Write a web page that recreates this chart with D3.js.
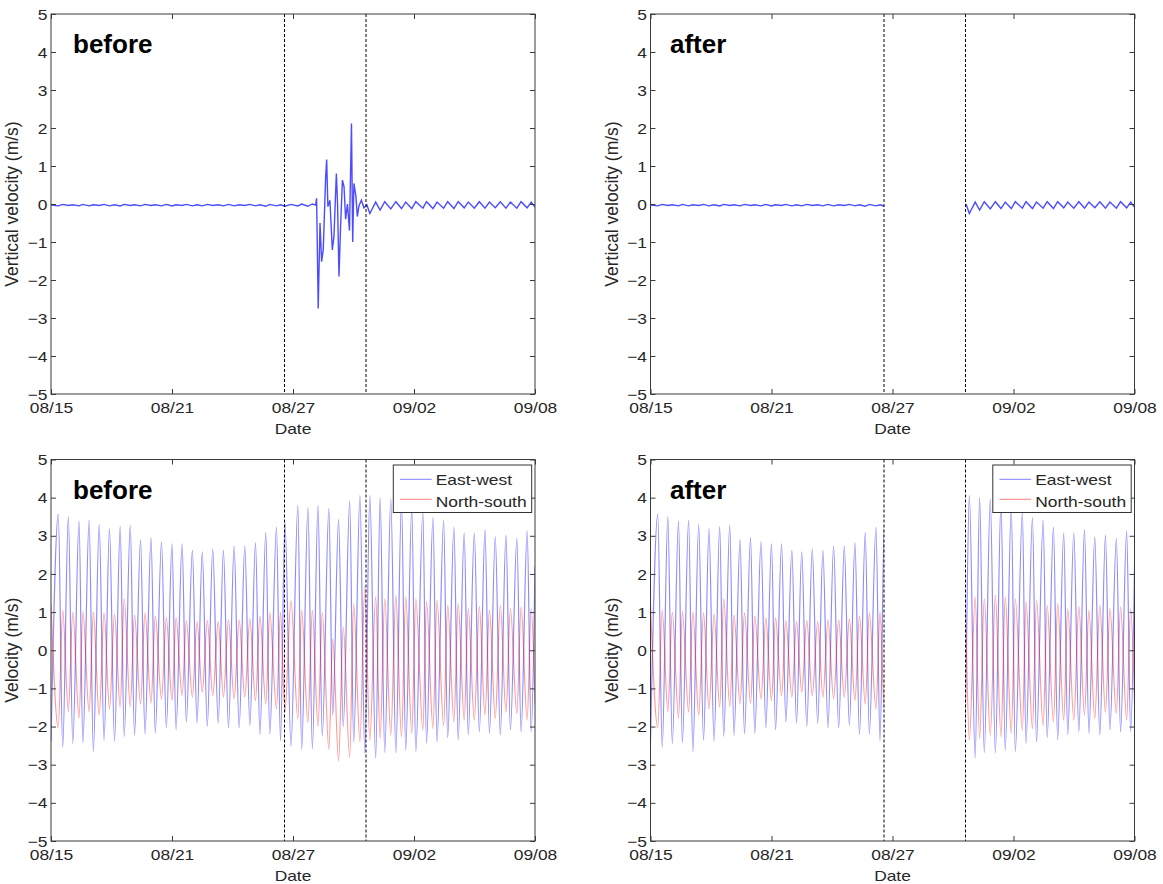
<!DOCTYPE html>
<html><head><meta charset="utf-8">
<script src="https://cdn.jsdelivr.net/npm/d3@7"></script>
<style>
body{margin:0;background:#fff;}
svg text{font-family:"Liberation Sans",Arial,sans-serif;}
</style>
</head><body>
<svg id="chart" width="1163" height="884"></svg>
<script>
// ---------- data (days after 08/15) ----------
const dateTicks = ["08/15","08/21","08/27","09/02","09/08"];
const tickDays = [0, 6, 12, 18, 24];
const yTicks = [-5,-4,-3,-2,-1,0,1,2,3,4,5];
const markerDays = [11.58, 15.62];
const panelTitles = ["before", "after", "before", "after"];
const seriesNames = ["East-west", "North-south"];
const yLabels = ["Vertical velocity (m/s)", "Velocity (m/s)"];

// alternating tidal extremes: start, (EW peak, EW trough) x 46, end
const tideDays = [0,
 0.36,0.58, 0.86,1.08, 1.39,1.58, 1.89,2.10, 2.39,2.63, 2.90,3.15, 3.43,3.63, 3.93,4.14, 4.44,4.66, 4.96,5.17,
 5.48,5.72, 6.00,6.20, 6.50,6.71, 7.01,7.24, 7.50,7.75, 8.02,8.29, 8.55,8.80, 9.08,9.33, 9.61,9.86, 10.14,10.36,
 10.65,10.85, 11.18,11.38, 11.60,11.90, 12.24,12.43, 12.74,12.96, 13.24,13.45, 13.78,13.97, 14.26,14.49, 14.81,15.01,
 15.32,15.56, 15.81,16.10, 16.32,16.55, 16.85,17.10, 17.38,17.59, 17.89,18.09, 18.44,18.62, 18.94,19.14, 19.47,19.67,
 19.98,20.19, 20.49,20.69, 20.99,21.24, 21.52,21.74, 22.03,22.28, 22.56,22.78, 23.10,23.31, 23.61,23.81,
 24.0];

const ewValues = [-2.4,
 3.57,-2.55, 3.51,-2.45, 3.39,-2.43, 3.41,-2.66, 3.30,-2.36, 3.19,-2.38, 3.25,-2.26, 3.28,-2.23, 2.90,-2.19, 2.95,-2.17,
 2.84,-2.03, 2.79,-2.08, 2.79,-1.88, 2.62,-1.91, 2.58,-1.99, 2.65,-1.91, 2.62,-2.03, 2.73,-2.03, 2.73,-1.97, 2.82,-2.21,
 3.09,-2.20, 3.23,-2.38, 3.37,-2.51, 3.80,-2.60, 3.74,-2.58, 3.80,-2.25, 3.72,-1.70, 3.43,-2.00, 3.91,-2.40,
 4.06,-2.70, 4.06,-2.83, 4.00,-2.68, 3.96,-2.69, 3.89,-2.62, 3.72,-2.66, 3.63,-2.44, 3.48,-2.40, 3.41,-2.29,
 3.23,-2.35, 3.08,-2.22, 3.08,-2.14, 3.16,-2.18, 2.97,-2.22, 3.02,-2.09, 2.93,-2.14, 3.13,-2.14,
 2.2];

const nsValues = [1.2,
 -2.03,1.05, -1.61,1.00, -1.78,1.02, -1.62,1.00, -1.71,0.98, -1.54,0.95, -1.49,1.35, -1.48,0.92, -1.41,0.98, -1.39,0.90,
 -1.28,0.85, -1.32,0.85, -1.19,0.78, -1.23,0.75, -1.10,0.78, -1.19,0.75, -1.23,0.80, -1.28,0.80, -1.23,0.82, -1.32,0.90,
 -1.41,0.98, -1.54,1.00, -1.62,1.30, -1.80,1.05, -1.90,1.05, -2.00,1.00, -2.60,0.30, -2.90,0.60, -2.80,1.20,
 -2.40,1.66, -2.35,1.40, -2.31,1.35, -2.23,1.44, -2.27,1.40, -2.18,1.35, -2.09,1.27, -2.05,1.31, -1.98,1.18,
 -1.88,1.22, -1.83,1.09, -1.83,1.15, -1.70,1.05, -1.79,1.18, -1.63,1.09, -1.66,1.14, -1.83,1.09,
 -1.4];

// vertical velocity at the same tidal times (null inside the disturbed window)
const vertTide = [-0.03,
 -0.05,-0.01, -0.04,-0.02, -0.05,-0.01, -0.05,-0.02, -0.04,-0.01, -0.05,-0.02, -0.05,-0.01, -0.04,-0.02, -0.05,-0.01, -0.04,-0.02,
 -0.05,-0.01, -0.05,-0.02, -0.04,-0.01, -0.05,-0.02, -0.05,-0.01, -0.04,-0.02, -0.05,-0.01, -0.05,-0.02, -0.04,-0.01, -0.05,-0.02,
 -0.06,-0.01, -0.05,-0.02, -0.06,-0.01, -0.05,0.00, -0.06,0.00, null,null, null,null, null,null, null,null,
 null,null, -0.25,0.05, -0.16,0.06, -0.13,0.06, -0.12,0.05, -0.12,0.06, -0.11,0.06, -0.12,0.05, -0.11,0.06,
 -0.12,0.06, -0.10,0.05, -0.11,0.06, -0.11,0.05, -0.10,0.06, -0.11,0.05, -0.11,0.06, -0.10,0.05,
 -0.08];

// vertical velocity in the disturbed window
const spikeDays = [13.12,13.17,13.25,13.34,13.42,13.50,13.55,13.62,13.67,13.73,
 13.83,13.95,14.03,14.15,14.21,14.28,14.36,14.45,14.53,14.61,
 14.70,14.80,14.90,14.96,15.02,15.12,15.19,15.27,15.39,15.52,15.66];
const spikeValues = [-0.03,0.15,-2.75,-0.5,-1.52,-1.2,-0.4,0.72,1.17,-0.07,
 0.1,-1.21,-0.86,0.8,0.0,-1.91,-0.6,0.63,0.46,-0.4,
 0.0,-0.7,2.12,-1.0,0.54,0.2,-0.33,-0.05,0.1,-0.1,-0.02];

// ---------- drawing ----------
const svg = d3.select("#chart");
const defs = svg.append("defs");
const W = 484;
const SX = 1.16; // horizontal stretch of the reference text
const panels = [
  {x:51,    y:14,    h:380,   kind:"vert", mode:"before"},
  {x:650.5, y:14,    h:380,   kind:"vert", mode:"after"},
  {x:51,    y:459.5, h:381.5, kind:"vel",  mode:"before"},
  {x:650.5, y:459.5, h:381.5, kind:"vel",  mode:"after"}
];
const t0 = Date.UTC(2012, 7, 15);
const toDate = d => new Date(t0 + d * 864e5);

const vertData = [];
tideDays.forEach((d, i) => { if (vertTide[i] !== null) vertData.push([d, vertTide[i]]); });
spikeDays.forEach((d, i) => vertData.push([d, spikeValues[i]]));
vertData.sort((a, b) => a[0] - b[0]);
const ewData = tideDays.map((d, i) => [d, ewValues[i]]);
const nsData = tideDays.map((d, i) => [d, nsValues[i]]);

const AX = "#3a3a3a", TXT = "#262626";

panels.forEach((p, pi) => {
  const x = d3.scaleUtc().domain([toDate(0), toDate(24)]).range([0, W]);
  const y = d3.scaleLinear().domain([-5, 5]).range([p.h, 0]);
  const g = svg.append("g").attr("transform", `translate(${p.x},${p.y})`);

  const clipId = "clip" + pi;
  const cp = defs.append("clipPath").attr("id", clipId);
  if (p.mode === "before") {
    cp.append("rect").attr("x", 0).attr("y", 0).attr("width", W).attr("height", p.h);
  } else {
    const a = x(toDate(markerDays[0])), b = x(toDate(markerDays[1]));
    cp.append("rect").attr("x", 0).attr("y", 0).attr("width", a).attr("height", p.h);
    cp.append("rect").attr("x", b).attr("y", 0).attr("width", W - b).attr("height", p.h);
  }
  const plot = g.append("g").attr("clip-path", `url(#${clipId})`);
  const line = d3.line().x(d => x(toDate(d[0]))).y(d => y(d[1]));

  if (p.kind === "vert") {
    plot.append("path").datum(vertData)
      .attr("d", line.curve(d3.curveLinear))
      .attr("fill", "none").attr("stroke", "#1010ff")
      .attr("stroke-width", 1.4).attr("stroke-opacity", 0.75);
  } else {
    plot.append("path").datum(ewData)
      .attr("d", line.curve(d3.curveMonotoneX))
      .attr("fill", "none").attr("stroke", "#0000ff")
      .attr("stroke-width", 1.2).attr("stroke-opacity", 0.45);
    plot.append("path").datum(nsData)
      .attr("d", line.curve(d3.curveMonotoneX))
      .attr("fill", "none").attr("stroke", "#ff0000")
      .attr("stroke-width", 1.2).attr("stroke-opacity", 0.4);
  }

  // dashed markers
  g.selectAll(".marker").data(markerDays).join("line")
    .attr("x1", d => x(toDate(d))).attr("x2", d => x(toDate(d)))
    .attr("y1", 0).attr("y2", p.h)
    .attr("stroke", "#000").attr("stroke-width", 1).attr("stroke-dasharray", "3,2");

  // axes
  const tickDates = tickDays.map(toDate);
  const xa = g.append("g").attr("transform", `translate(0,${p.h})`)
    .call(d3.axisBottom(x).tickValues(tickDates).tickFormat((d, i) => dateTicks[i])
      .tickSizeInner(-5).tickSizeOuter(0).tickPadding(8));
  g.append("g").call(d3.axisTop(x).tickValues(tickDates).tickFormat("")
      .tickSizeInner(-5).tickSizeOuter(0));
  const ya = g.append("g").call(d3.axisLeft(y).tickValues(yTicks).tickFormat(d3.format("d"))
      .tickSizeInner(-5).tickSizeOuter(0).tickPadding(4));
  g.append("g").attr("transform", `translate(${W},0)`)
    .call(d3.axisRight(y).tickValues(yTicks).tickFormat("").tickSizeInner(-5).tickSizeOuter(0));
  g.selectAll(".domain").remove();
  g.selectAll(".tick line").attr("stroke", AX);
  xa.selectAll("text").attr("font-size", 15).attr("fill", TXT)
    .attr("transform", `scale(${SX},1)`);
  ya.selectAll("text").attr("font-size", 15).attr("fill", TXT)
    .attr("x", -3.5 / SX).attr("dy", "0.34em")
    .attr("transform", `scale(${SX},1)`);
  g.append("rect").attr("x", 0).attr("y", 0).attr("width", W).attr("height", p.h)
    .attr("fill", "none").attr("stroke", AX).attr("stroke-width", 1);

  // axis titles
  g.append("text").attr("transform", `translate(${W / 2},${p.h + 40}) scale(${SX},1)`)
    .attr("text-anchor", "middle").attr("font-size", 15).attr("fill", TXT).text("Date");
  g.append("text")
    .attr("transform", `translate(${-33},${p.h / 2}) rotate(-90)`)
    .attr("text-anchor", "middle").attr("font-size", 17.5).attr("fill", TXT)
    .text(p.kind === "vert" ? yLabels[0] : yLabels[1]);

  // panel title
  g.append("text").attr("x", p.mode === "before" ? 22 : 19.5).attr("y", 39)
    .attr("font-family", "Lato, 'Open Sans', sans-serif").attr("font-weight", 700)
    .attr("font-size", 26).attr("fill", "#000").text(panelTitles[pi]);

  // legend
  if (p.kind === "vel") {
    const lg = g.append("g").attr("transform", `translate(${W - 141.7},5.5)`);
    lg.append("rect").attr("width", 138.4).attr("height", 47.5)
      .attr("fill", "#fff").attr("stroke", "#333").attr("stroke-width", 1);
    const cols = ["#7f7fff", "#ff7f7f"];
    seriesNames.forEach((s, i) => {
      const yy = i === 0 ? 14.3 : 34.3;
      lg.append("line").attr("x1", 6.7).attr("x2", 38.4).attr("y1", yy).attr("y2", yy)
        .attr("stroke", cols[i]).attr("stroke-width", 1);
      lg.append("text").attr("transform", `translate(42.4,${i === 0 ? 20 : 41.7}) scale(${SX},1)`)
        .attr("font-size", 15).attr("fill", TXT).text(s);
    });
  }
});
</script>
</body></html>
